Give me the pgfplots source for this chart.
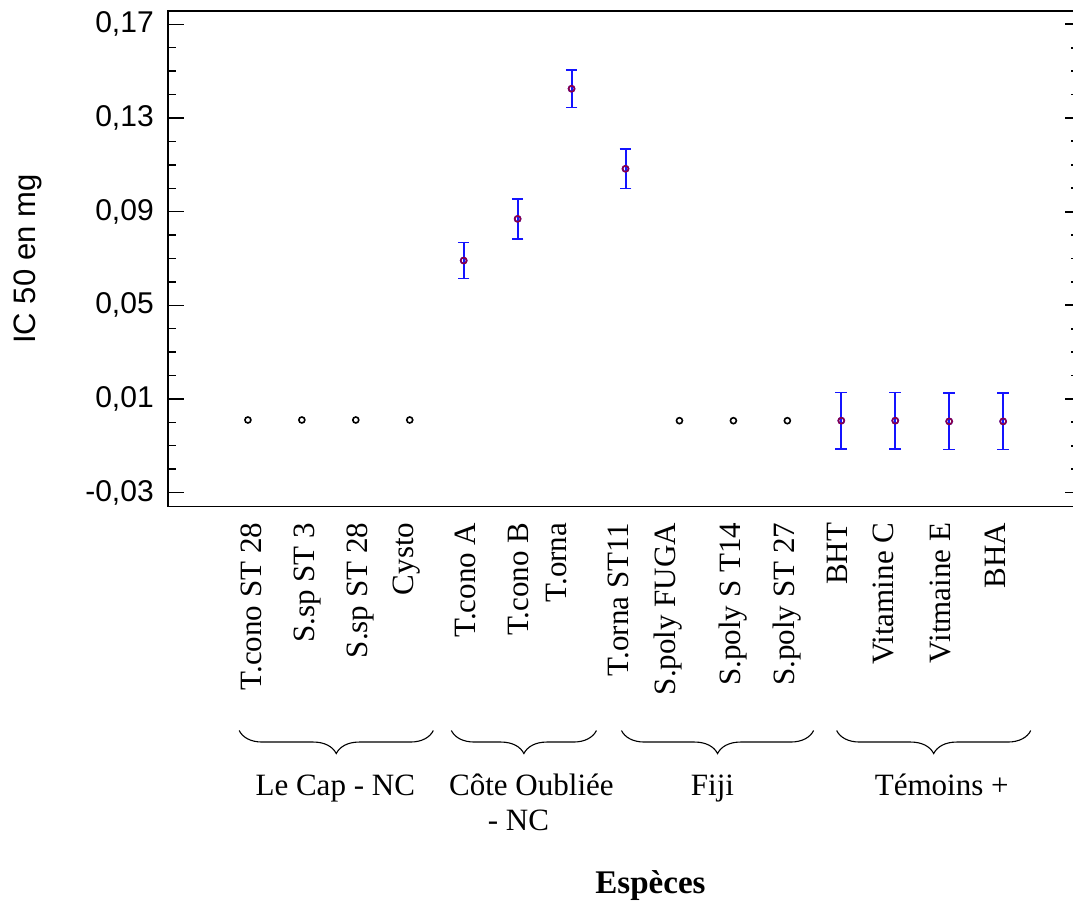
\documentclass[border=0pt]{standalone}
\usepackage{fontspec}
\setmainfont{Liberation Serif}
\newfontfamily\arial{Liberation Sans}
\usepackage{pgfplots}
\usepackage{pgfplotstable}
\pgfplotsset{compat=1.18}
\usetikzlibrary{decorations.pathreplacing,calc}
\definecolor{markred}{RGB}{140,0,70}
\definecolor{barblue}{RGB}{20,20,255}

% species without error bars
\pgfplotstableread{
x y
0 0.0010
1 0.0010
2 0.0010
3 0.0010
8 0.0007
9 0.0007
10 0.0007
}\plain
% species and controls with error bars
\pgfplotstableread{
x y err
4 0.0691 0.0077
5 0.0869 0.0086
6 0.1425 0.0080
7 0.1083 0.0085
11 0.0007 0.0120
12 0.0007 0.0120
13 0.0004 0.0120
14 0.0004 0.0120
}\witherr

\begin{document}
\begin{tikzpicture}
\begin{axis}[
  name=main,
  scale only axis,
  width=452.5pt, height=247.5pt,
  xmin=-1.479, xmax=15.31,
  ymin=-0.0359, ymax=0.1757,
  axis line style={line width=0.7pt},
  xtick={0.07,1.10,2.08,2.94,4.04,5.02,5.73,6.86,7.79,9.0,9.99,10.92,11.79,12.83,13.86},
  xticklabels={T.cono ST 28,S.sp ST 3,S.sp ST 28,Cysto,T.cono A,T.cono B,T.orna,T.orna ST11,S.poly FUGA,S.poly S T14,S.poly ST 27,BHT,Vitamine C,Vitmaine E,BHA},
  x tick style={draw=none},
  xticklabel style={rotate=90, anchor=east, inner sep=0pt, font=\fontsize{15.5}{18}\selectfont},
  xticklabel shift=8pt,
  ytick={-0.03,0.01,0.05,0.09,0.13,0.17},
  minor y tick num=3,
  ytick pos=left,
  tick align=inside,
  y tick style={line width=0.7pt, black},
  major tick length=8pt,
  minor tick length=4pt,
  yticklabel style={font=\arial\fontsize{15}{18}\selectfont, inner sep=0pt, xshift=-7pt,
    /pgf/number format/.cd, fixed, fixed zerofill, precision=2, use comma, assume math mode=true},
  clip=false,
]
\addplot[only marks, mark=o, mark size=1.5pt, mark options={line width=0.8pt, black}]
  table[x=x, y=y] {\plain};
% error bars (blue)
\addplot[barblue, draw=barblue, only marks, mark=o, mark size=1.5pt, mark options={line width=0.8pt, barblue},
  error bars/.cd, y dir=both, y explicit,
  error bar style={draw=barblue, color=barblue, line width=1pt, solid},
  error mark options={draw=barblue, rotate=90, mark size=2.9pt, line width=0.8pt}]
  table[x=x, y=y, y error=err] {\witherr};
% markers on top
\addplot[markred, only marks, mark=o, mark size=1.5pt, mark options={line width=0.8pt, markred}]
  table[x=x, y=y] {\witherr};
\end{axis}
% right-hand ticks
\begin{axis}[
  scale only axis,
  width=452.5pt, height=247.5pt,
  xmin=-1.479, xmax=15.31,
  ymin=-0.0359, ymax=0.1757,
  axis line style={draw=none},
  xtick=\empty,
  ytick={-0.03,0.01,0.05,0.09,0.13,0.17},
  minor y tick num=3,
  ytick pos=right,
  yticklabels={},
  tick align=inside,
  y tick style={line width=0.9pt, black},
  major tick length=4.5pt,
  minor tick length=1.2pt,
]
\end{axis}

\coordinate (O) at (main.south west);
\foreach \a/\b in {35.5/132.5, 141.5/214, 226.5/322.5, 334/431}{
  \draw[decorate, decoration={brace, mirror, amplitude=11.5pt}, line width=0.55pt]
    ($(O)+(\a pt,-112pt)$) -- ($(O)+(\b pt,-112pt)$);
}
\begin{scope}[font=\fontsize{15.5}{18}\selectfont]
\node[anchor=base] at ($(O)+(83.5pt,-144.5pt)$) {Le Cap - NC};
\node[anchor=base] at ($(O)+(181.5pt,-144.5pt)$) {Côte Oubliée};
\node[anchor=base] at ($(O)+(175pt,-162pt)$) {- NC};
\node[anchor=base] at ($(O)+(272pt,-144.5pt)$) {Fiji};
\node[anchor=base] at ($(O)+(386.5pt,-144.5pt)$) {Témoins +};
\end{scope}
\node[anchor=base, font=\bfseries\fontsize{16.5}{20}\selectfont] at ($(O)+(241pt,-193.5pt)$) {Espèces};
\node[rotate=90, font=\arial\fontsize{15.5}{18}\selectfont] at ($(O)+(-70pt,123.5pt)$) {IC 50 en mg};

\pgfresetboundingbox
\path[use as bounding box] ($(O)+(-84pt,-198pt)$) rectangle ($(main.north east)+(-0.4pt,5.5pt)$);
\end{tikzpicture}
\end{document}
